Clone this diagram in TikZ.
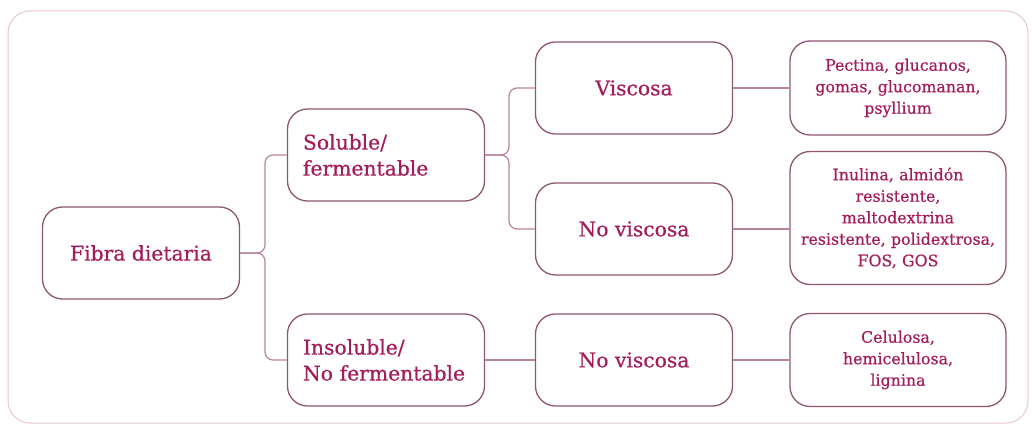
\documentclass[tikz,border=0pt]{standalone}
\usepackage{fontspec}
\setmainfont{DejaVu Serif}[FakeBold=0.6]
\usepackage{xcolor}
\usetikzlibrary{calc}

\definecolor{frameCol}{HTML}{E8C6D2}
\definecolor{boxLine}{HTML}{8E5672}
\definecolor{linkCol}{HTML}{B8849C}
\definecolor{textCol}{HTML}{A31D5B}

\tikzset{
  box/.style={draw=boxLine, line width=1.3pt, rounded corners=20pt, text=textCol,
    minimum width=197pt, minimum height=92pt, inner sep=0pt},
  bigtxt/.style={font=\fontsize{20.3}{26}\selectfont},
  lefttxt/.style={align=left, text width=166pt},
  smalltxt/.style={font=\fontsize{15.8}{21.5}\selectfont, align=center, text width=212pt},
  link/.style={draw=linkCol, line width=1.2pt, rounded corners=8pt}
}

\begin{document}
\begin{tikzpicture}[x=1pt,y=-1pt]

% Frame
\useasboundingbox (0,0) rectangle (1033,427);
\draw[frameCol, line width=1pt, rounded corners=22pt] (8,11) rectangle (1028,423);

% Boxes
\node[box, bigtxt] (fibra) at (141,253) {Fibra dietaria};
\node[box, bigtxt, lefttxt] (sol) at (386,155) {Soluble/\\fermentable};
\node[box, bigtxt, lefttxt] (ins) at (386,360) {Insoluble/\\No fermentable};
\node[box, bigtxt] (visc) at (634,88) {Viscosa};
\node[box, bigtxt] (novA) at (634,229) {No viscosa};
\node[box, bigtxt] (novB) at (634,360) {No viscosa};
\node[box, smalltxt, minimum width=216pt, minimum height=94pt] (pect) at (898,88)
  {Pectina, glucanos,\\gomas, glucomanan,\\psyllium};
\node[box, smalltxt, minimum width=216pt, minimum height=133pt] (inul) at (898,218)
  {Inulina, almidón\\resistente,\\maltodextrina\\resistente, polidextrosa,\\FOS, GOS};
\node[box, smalltxt, minimum width=216pt, minimum height=93pt] (celu) at (898,360)
  {Celulosa,\\hemicelulosa,\\lignina};

% Braces
\coordinate (jA) at (265,253);
\coordinate (jB) at (509,155);
\draw[link] (fibra.east) -- (jA) |- (sol.west);
\draw[link] (fibra.east) -- (jA) |- (ins.west);
\draw[link] (sol.east) -- (jB) |- (visc.west);
\draw[link] (sol.east) -- (jB) |- (novA.west);

% Straight links
\draw[link] (ins.east) -- (novB.west);
\draw[link] (visc.east) -- (pect.west);
\draw[link] (novA.east) -- (novA.east -| inul.west);
\draw[link] (novB.east) -- (celu.west);

\end{tikzpicture}
\end{document}
